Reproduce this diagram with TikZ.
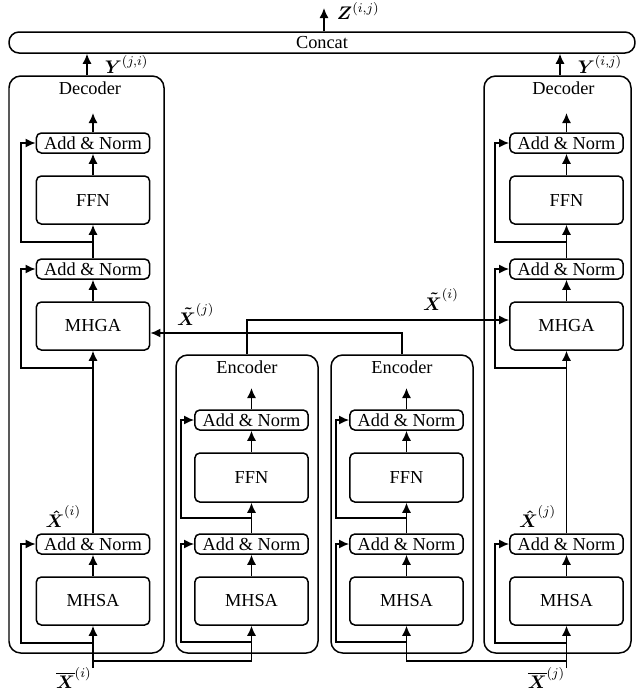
\documentclass[tikz,border=0pt]{standalone}
\usepackage{amsmath}
\usepackage{amssymb}
\usepackage{fontspec}
\setmainfont{Liberation Serif}
\usetikzlibrary{arrows.meta}
\tikzset{
  >={Latex[length=6pt,width=5.4pt]}, % filled arrow heads
}
\tikzset{basic/.style={draw,fill=none,
                       text badly centered,inner sep=0pt}}
\tikzset{block/.style={basic,rectangle,rounded corners=3pt,minimum width=68pt,minimum height=28.8pt}}
\tikzset{addnorm/.style={basic,rectangle,rounded corners=3pt,minimum width=68pt,minimum height=12pt}}
\tikzset{container/.style={basic,rectangle,rounded corners=7pt}}

\begin{document}
\begin{tikzpicture}[x=0.6pt,y=-0.6pt,line width=0.9pt,font=\fontsize{11pt}{13pt}\selectfont]
         \useasboundingbox (0,0) rectangle (640,691);
         % Concat on top
         \node[basic,rounded corners=6pt,minimum width=375.6pt,minimum height=12.6pt] (concat) at (322,42.5) {Concat};
         \coordinate (zout) at (324,8);
         \draw[->] (324,0 |- concat.north) -- (zout) node[right=4pt,yshift=-2pt] {$\boldsymbol{Z}^{(i,j)}$};
         % Draw both decoders
         \foreach \side/\cx/\rx/\ox/\bl/\br/\hx/\ylab in {L/93/21/87/9/164/i/{j,i}, R/566.5/495/560/484/631/j/{i,j}}{%
            \node[container,minimum width={(\br-\bl)*0.6pt},minimum height=346.2pt] (dec\side) at ({(\bl+\br)/2},364.5) {};
            \node (dec\side-title) at ({\cx-3},88) {Decoder};
            \node[addnorm] (dec\side-an3) at (\cx,143) {Add \& Norm};
            \node[block] (dec\side-ffn) at (\cx,200) {FFN};
            \node[addnorm] (dec\side-an2) at (\cx,269) {Add \& Norm};
            \node[block] (dec\side-mhga) at (\cx,326) {MHGA};
            \node[addnorm] (dec\side-an1) at (\cx,544) {Add \& Norm};
            \node[block] (dec\side-mhsa) at (\cx,601) {MHSA};
            \coordinate (dec\side-top) at (\cx,113);
            \coordinate (dec\side-r3) at (\cx,242);
            \coordinate (dec\side-r2) at (\cx,368);
            \coordinate (dec\side-r1) at (\cx,643);
            \coordinate (in\side) at (\cx,668);
            \coordinate (br\side) at (\cx,661);
            % Main path upwards
            \draw[->] (in\side) -- (dec\side-mhsa);
            \draw[->] (dec\side-mhsa) -- (dec\side-an1);
            \draw[->] (dec\side-an1) -- (dec\side-mhga);
            \draw[->] (dec\side-mhga) -- (dec\side-an2);
            \draw[->] (dec\side-an2) -- (dec\side-ffn);
            \draw[->] (dec\side-ffn) -- (dec\side-an3);
            \draw[->] (dec\side-an3) -- (dec\side-top);
            % Residual connections
            \draw[->] (dec\side-r1) -| (\rx,0 |- dec\side-an1.west) -- (dec\side-an1);
            \draw[->] (dec\side-r2) -| (\rx,0 |- dec\side-an2.west) -- (dec\side-an2);
            \draw[->] (dec\side-r3) -| (\rx,0 |- dec\side-an3.west) -- (dec\side-an3);
            % Output to concat
            \draw[->] (\ox,0 |- dec\side.north) -- (\ox,0 |- concat.south) node[midway,right=7pt] {$\boldsymbol{Y}^{(\ylab)}$};
            % Labels
            \node[anchor=north east,inner sep=0.5pt,yshift=1.5pt] (bar\side) at (in\side) {$\overline{\boldsymbol{X}}^{(\hx)}$};
            \node[anchor=south west,inner sep=0.5pt,xshift=5pt,yshift=2.5pt] (hat\side) at (dec\side-an1.north west) {$\boldsymbol{\hat{X}}^{(\hx)}$};
         }
         % Draw both encoders
         \foreach \e/\cx/\rx/\bl/\br in {1/251.5/181/176/318, 2/406.5/336/331/473}{%
            \node[container,minimum width={(\br-\bl)*0.6pt},minimum height=178.8pt] (enc\e) at ({(\bl+\br)/2},504) {};
            \node (enc\e-title) at ({(\bl+\br)/2},367) {Encoder};
            \node[addnorm] (enc\e-an2) at (\cx,420) {Add \& Norm};
            \node[block,minimum height=29.4pt] (enc\e-ffn) at (\cx,477.5) {FFN};
            \node[addnorm] (enc\e-an1) at (\cx,544) {Add \& Norm};
            \node[block] (enc\e-mhsa) at (\cx,601) {MHSA};
            \coordinate (enc\e-top) at (\cx,388);
            \coordinate (enc\e-r2) at (\cx,518);
            \coordinate (enc\e-r1) at (\cx,642);
            \draw[->] (enc\e-mhsa) -- (enc\e-an1);
            \draw[->] (enc\e-an1) -- (enc\e-ffn);
            \draw[->] (enc\e-ffn) -- (enc\e-an2);
            \draw[->] (enc\e-an2) -- (enc\e-top);
            \draw[->] (enc\e-r2) -| (\rx,0 |- enc\e-an2.west) -- (enc\e-an2);
            \draw[->] (enc\e-r1) -| (\rx,0 |- enc\e-an1.west) -- (enc\e-an1);
         }
         % Inputs shared with the encoders
         \draw[->] (brL) -| (enc1-mhsa);
         \draw[->] (brR) -| (enc2-mhsa);
         % Encoder outputs crossing to the decoders
         \draw[->] (enc1.north) |- ([yshift=3.6pt]decR-mhga.west) node[pos=0.87,above=2pt] {$\boldsymbol{\tilde{X}}^{(i)}$};
         \draw[->] (enc2.north) |- ([yshift=-4.2pt]decL-mhga.east) node[pos=0.91,above=1pt] {$\boldsymbol{\tilde{X}}^{(j)}$};
      \end{tikzpicture}
\end{document}
